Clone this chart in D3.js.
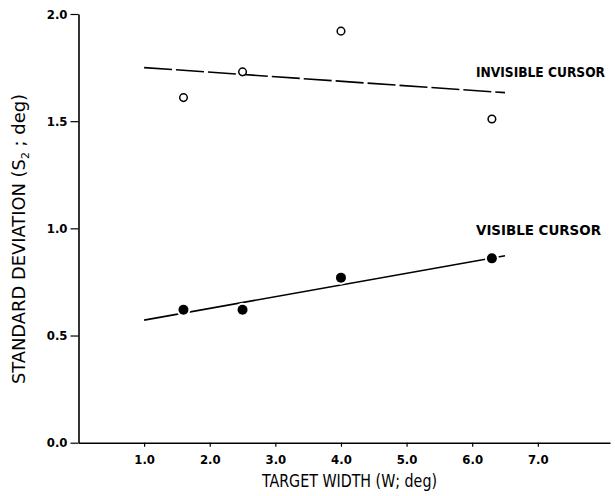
<!DOCTYPE html>
<html>
<head>
<meta charset="utf-8">
<script src="https://cdn.jsdelivr.net/npm/d3@7"></script>
<style>
  body { margin: 0; background: #fff; }
  svg { display: block; }
  .tick text { font-family: "DejaVu Sans Condensed", "DejaVu Sans", sans-serif; font-weight: bold; font-size: 13px; fill: #000; }
  .title { font-family: "DejaVu Sans Condensed", "DejaVu Sans", sans-serif; font-size: 18px; fill: #000; }
  .series-label { font-family: "DejaVu Sans Condensed", "DejaVu Sans", sans-serif; font-weight: bold; font-size: 13.5px; fill: #000; }
</style>
</head>
<body>
<svg id="chart" width="615" height="496"></svg>
<script>
(function() {

  "use strict";

  // Data ////////////////////////////////////////////////////
  var targetWidth = [1.6, 2.5, 4.0, 6.3];
  var invisibleSD = [1.61, 1.73, 1.92, 1.51];
  var visibleSD = [0.62, 0.62, 0.77, 0.86];

  // fitted lines, read as end points at W = 1.0 and 6.5
  var fitX = [1.0, 6.5];
  var invisibleFit = [1.75, 1.633];
  var visibleFit = [0.572, 0.872];

  var xTicks = [1, 2, 3, 4, 5, 6, 7];
  var yTicks = [0, 0.5, 1.0, 1.5, 2.0];

  // Setup ///////////////////////////////////////////////////
  var svg = d3.select("#chart");

  var x = d3.scaleLinear().domain([0, 8.1]).range([78.5, 610]);
  var y = d3.scaleLinear().domain([0, 2]).range([442.7, 14]);

  // Axes
  var xAxis = d3.axisBottom(x)
      .tickValues(xTicks)
      .tickSize(4)
      .tickSizeOuter(0)
      .tickPadding(8)
      .tickFormat(d3.format(".1f"));

  var yAxis = d3.axisLeft(y)
      .tickValues(yTicks)
      .tickSize(8)
      .tickSizeOuter(0)
      .tickPadding(3)
      .tickFormat(d3.format(".1f"));

  var styleAxis = function(g) {
    g.select(".domain").attr("stroke", "#000").attr("stroke-width", 1.6);
    g.selectAll(".tick line").attr("stroke", "#000").attr("stroke-width", 1.2);
  };

  svg.append("g")
      .attr("transform", "translate(0," + y(0) + ")")
      .call(xAxis)
      .call(styleAxis);

  svg.append("g")
      .attr("transform", "translate(" + x(0) + ",0)")
      .call(yAxis)
      .call(styleAxis);

  // Axis titles
  svg.append("text")
      .attr("class", "title")
      .attr("x", 262)
      .attr("y", 487)
      .attr("textLength", 175)
      .attr("lengthAdjust", "spacingAndGlyphs")
      .text("TARGET WIDTH (W; deg)");

  var yTitle = svg.append("text")
      .attr("class", "title")
      .attr("transform", "translate(25,384) rotate(-90)")
      .attr("textLength", 290)
      .attr("lengthAdjust", "spacingAndGlyphs");
  yTitle.append("tspan").text("STANDARD DEVIATION (S");
  yTitle.append("tspan").attr("dy", 4).style("font-size", "11px").text("2");
  yTitle.append("tspan").attr("dy", -4).text(" ; deg)");

  // Fit lines
  var line = d3.line()
      .x(function(d) { return x(d[0]); })
      .y(function(d) { return y(d[1]); });

  svg.append("path")
      .datum(d3.zip(fitX, invisibleFit))
      .attr("d", line)
      .attr("fill", "none")
      .attr("stroke", "#000")
      .attr("stroke-width", 1.6)
      .attr("stroke-dasharray", "28,4");

  svg.append("path")
      .datum(d3.zip(fitX, visibleFit))
      .attr("d", line)
      .attr("fill", "none")
      .attr("stroke", "#000")
      .attr("stroke-width", 1.6);

  // Points
  svg.append("g").selectAll("circle")
      .data(d3.zip(targetWidth, invisibleSD))
      .enter()
      .append("circle")
      .attr("cx", function(d) { return x(d[0]); })
      .attr("cy", function(d) { return y(d[1]); })
      .attr("r", 3.8)
      .attr("fill", "#fff")
      .attr("stroke", "#000")
      .attr("stroke-width", 1.5);

  svg.append("g").selectAll("circle")
      .data(d3.zip(targetWidth, visibleSD))
      .enter()
      .append("circle")
      .attr("cx", function(d) { return x(d[0]); })
      .attr("cy", function(d) { return y(d[1]); })
      .attr("r", 5)
      .attr("fill", "#000")
      .attr("stroke", "#fff")
      .attr("stroke-width", 4)
      .attr("paint-order", "stroke");

  // Series labels
  svg.append("text")
      .attr("class", "series-label")
      .attr("x", 476)
      .attr("y", 77)
      .attr("textLength", 129)
      .attr("lengthAdjust", "spacingAndGlyphs")
      .text("INVISIBLE CURSOR");

  svg.append("text")
      .attr("class", "series-label")
      .attr("x", 476)
      .attr("y", 235)
      .attr("textLength", 125)
      .attr("lengthAdjust", "spacingAndGlyphs")
      .text("VISIBLE CURSOR");

})();
</script>
</body>
</html>
